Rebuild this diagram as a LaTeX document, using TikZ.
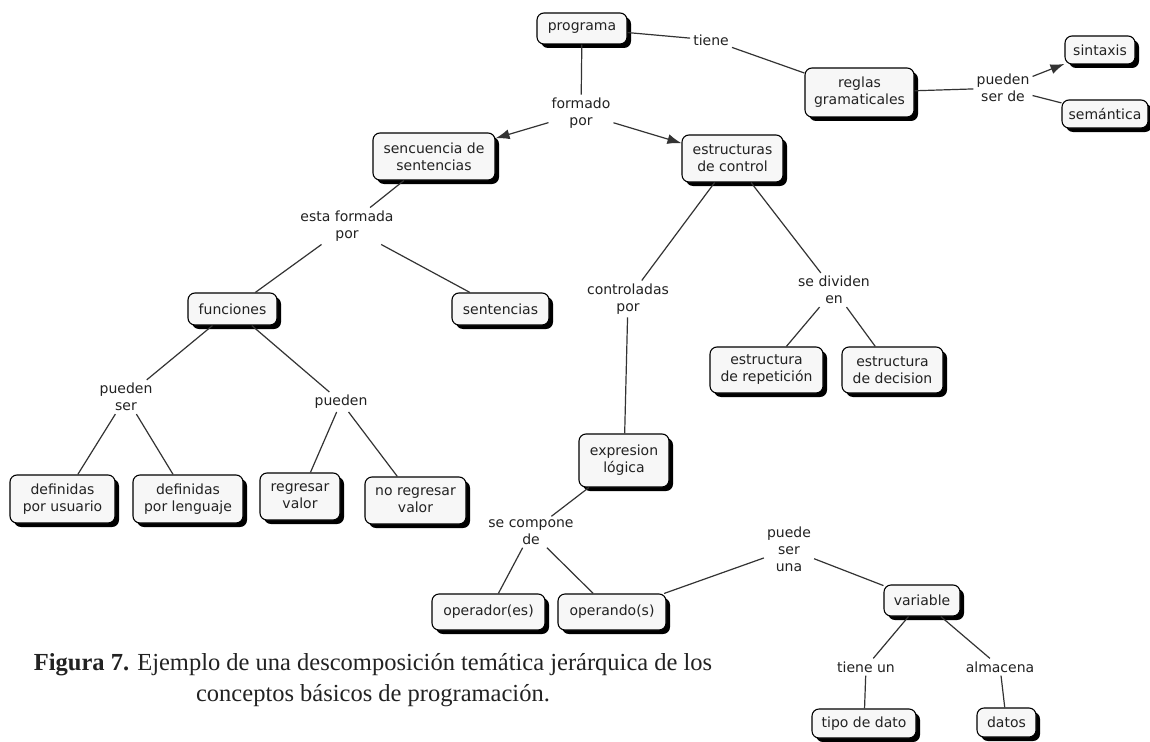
\documentclass[tikz,border=0pt]{standalone}
\usepackage{fontspec}
\setmainfont{DejaVu Sans}
\newfontfamily\capfont{Liberation Serif}
\usetikzlibrary{shadows,arrows.meta}
\definecolor{lnk}{HTML}{333333}
\definecolor{txt}{HTML}{222222}
\begin{document}
\begin{tikzpicture}[x=1pt,y=-1pt,
  concept/.style={draw=black, line width=1.1pt, fill=white!97!black, rounded corners=7pt,
    align=center, inner sep=0pt, text=txt, font=\fontsize{14}{17}\selectfont,
    drop shadow={shadow xshift=4pt, shadow yshift=-4pt, fill=black, opacity=1}},
  phrase/.style={align=center, inner sep=3pt, text=txt, font=\fontsize{14}{17}\selectfont},
  conn/.style={draw=lnk, line width=1.2pt},
  arr/.style={conn, -{Latex[length=14pt,width=10pt]}},
]
\path[use as bounding box, fill=white] (0,0) rectangle (1150,741);

% concepts
\node[concept, minimum width=90pt, minimum height=31pt] (prog) at (582,28.5) {programa};
\node[concept, minimum width=109pt, minimum height=49pt] (reglas) at (859.5,92.5) {reglas\\gramaticales};
\node[concept, minimum width=70pt, minimum height=28pt] (sint) at (1100,50) {sintaxis};
\node[concept, minimum width=86pt, minimum height=28pt] (sem) at (1105,114) {semántica};
\node[concept, minimum width=122pt, minimum height=47pt] (sec) at (434,156.5) {sencuencia de\\sentencias};
\node[concept, minimum width=101pt, minimum height=47pt] (estr) at (732.5,158.5) {estructuras\\de control};
\node[concept, minimum width=89pt, minimum height=32pt] (func) at (232.5,309) {funciones};
\node[concept, minimum width=97pt, minimum height=32pt] (sent) at (500.5,309) {sentencias};
\node[concept, minimum width=113pt, minimum height=46pt] (rep) at (766.5,370) {estructura\\de repetición};
\node[concept, minimum width=101pt, minimum height=46pt] (dec) at (892.5,370) {estructura\\de decision};
\node[concept, minimum width=105pt, minimum height=48pt] (dusu) at (62.5,499) {definidas\\por usuario};
\node[concept, minimum width=110pt, minimum height=48pt] (dlen) at (188,499) {definidas\\por lenguaje};
\node[concept, minimum width=80pt, minimum height=47pt] (reg) at (300,496.5) {regresar\\valor};
\node[concept, minimum width=101pt, minimum height=47pt] (noreg) at (415.5,500.5) {no regresar\\valor};
\node[concept, minimum width=90pt, minimum height=53pt] (expr) at (624,460.5) {expresion\\lógica};
\node[concept, minimum width=113pt, minimum height=36pt] (oper) at (488.5,612) {operador(es)};
\node[concept, minimum width=108pt, minimum height=36pt] (opdo) at (612,612) {operando(s)};
\node[concept, minimum width=76pt, minimum height=31pt] (var) at (922,600.5) {variable};
\node[concept, minimum width=104pt, minimum height=29pt] (tipo) at (864,723.5) {tipo de dato};
\node[concept, minimum width=59pt, minimum height=29pt] (datos) at (1006.5,722.5) {datos};

% linking phrases
\node[phrase] (tiene) at (711,40) {tiene};
\node[phrase] (pser) at (1003,88) {pueden\\ser de};
\node[phrase] (form) at (581,113) {formado\\por};
\node[phrase] (estaf) at (347,226) {esta formada\\por};
\node[phrase] (ctrl) at (628,299) {controladas\\por};
\node[phrase] (divid) at (834,290) {se dividen\\en};
\node[phrase] (pueser) at (126,397) {pueden\\ser};
\node[phrase] (pueden) at (341,402) {pueden};
\node[phrase] (comp) at (531,532) {se compone\\de};
\node[phrase] (psu) at (789,549) {puede\\ser\\una};
\node[phrase] (tun) at (866,667) {tiene un};
\node[phrase] (alm) at (1000,667) {almacena};

% connectors
\draw[conn] (prog) -- (tiene);
\draw[conn] (tiene) -- (reglas);
\draw[conn] (reglas) -- (pser);
\draw[arr] (pser) -- (sint);
\draw[conn] (pser) -- (sem);
\draw[conn] (prog) -- (form);
\draw[arr] (form) -- (sec);
\draw[arr] (form) -- (estr);
\draw[conn] (sec) -- (estaf);
\draw[conn] (estaf) -- (func);
\draw[conn] (estaf) -- (sent);
\draw[conn] (estr) -- (ctrl);
\draw[conn] (estr) -- (divid);
\draw[conn] (divid) -- (rep);
\draw[conn] (divid) -- (dec);
\draw[conn] (func) -- (pueser);
\draw[conn] (func) -- (pueden);
\draw[conn] (pueser) -- (dusu);
\draw[conn] (pueser) -- (dlen);
\draw[conn] (pueden) -- (reg);
\draw[conn] (pueden) -- (noreg);
\draw[conn] (ctrl) -- (expr);
\draw[conn] (expr) -- (comp);
\draw[conn] (comp) -- (oper);
\draw[conn] (comp) -- (opdo);
\draw[conn] (opdo) -- (psu);
\draw[conn] (psu) -- (var);
\draw[conn] (var) -- (tun);
\draw[conn] (var) -- (alm);
\draw[conn] (tun) -- (tipo);
\draw[conn] (alm) -- (datos);

% caption
\node[font=\capfont\fontsize{24.5}{31}\selectfont, align=center, text=txt, inner sep=0pt] (cap) at (373,680)
  {{\bfseries Figura 7.} Ejemplo de una descomposición temática jerárquica de los\\conceptos básicos de programación.};
\end{tikzpicture}
\end{document}
